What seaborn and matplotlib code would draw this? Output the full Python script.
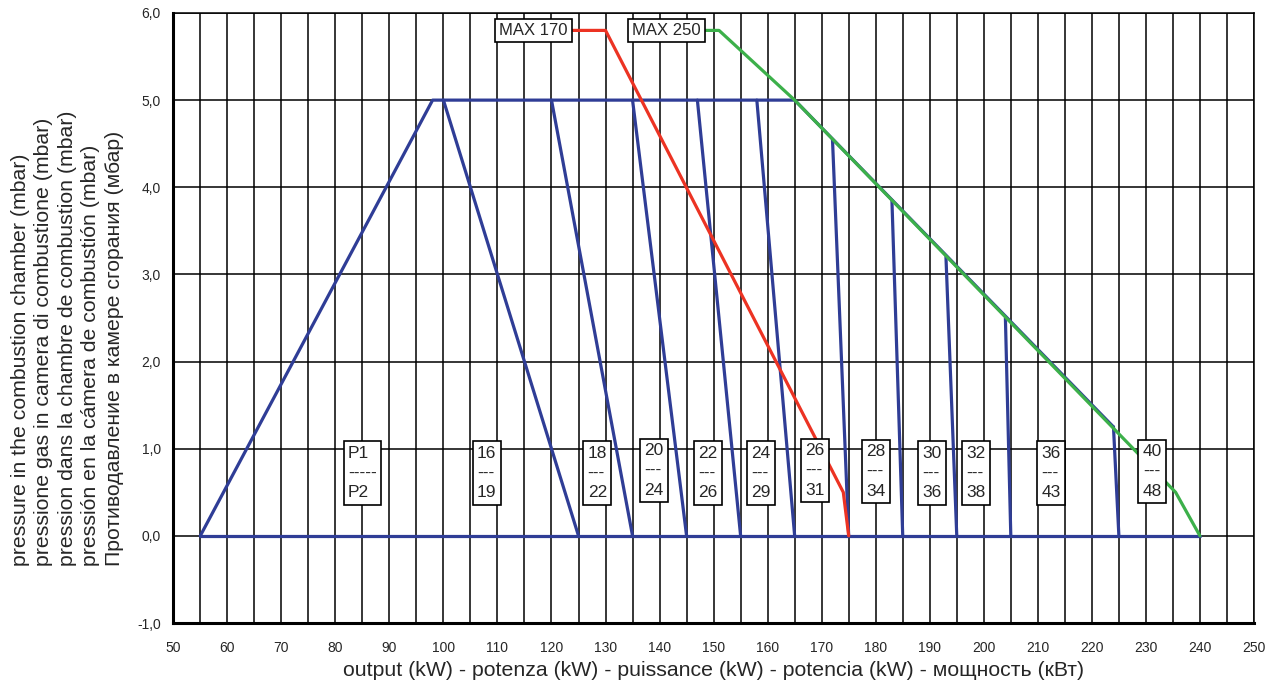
import pandas as pd
import seaborn as sns
import matplotlib.pyplot as plt
from matplotlib.ticker import MultipleLocator, FuncFormatter

# --- data ---
# blue: outline of the working field (P1 / P2 limits)
blue_outline_x = [55, 98, 165, 224]
blue_outline_y = [0, 5, 5, 1.25]
blue_base_x = [55, 240]
blue_base_y = [0, 0]
# steep blue lines: start (top) and end (on the 0 line)
steep_top_x = [100, 120, 135, 147, 158, 172, 183, 193, 204, 224]
steep_top_y = [5, 5, 5, 5, 5, 4.55, 3.85, 3.2, 2.5, 1.25]
steep_end_x = [125, 135, 145, 155, 165, 175, 185, 195, 205, 225]

# red: MAX 170
red_x = [124, 130, 174, 175]
red_y = [5.8, 5.8, 0.5, 0]
# green: MAX 250
green_x = [148, 151, 165, 235.5, 240]
green_y = [5.8, 5.8, 5, 0.5, 0]

# boxed labels along the 1,0 line
box_x = [85, 108, 128.5, 139, 149, 158.7, 168.7, 180, 190.4, 198.6, 212.4, 231.2]
box_text = ["P1\n-----\nP2", "16\n---\n19", "18\n---\n22", "20\n---\n24",
            "22\n---\n26", "24\n---\n29", "26\n---\n31", "28\n---\n34",
            "30\n---\n36", "32\n---\n38", "36\n---\n43", "40\n---\n48"]
box_y = [0.72, 0.72, 0.72, 0.75, 0.72, 0.72, 0.75, 0.74, 0.72, 0.72, 0.72, 0.74]

max_x = [116.7, 141.3]
max_y = [5.8, 5.8]
max_text = ["MAX 170", "MAX 250"]

x_title = "output (kW) - potenza (kW) - puissance (kW) - potencia (kW) - мощность (кВт)"
y_title = ("pressure in the combustion chamber (mbar)\n"
           "pressione gas in camera di combustione (mbar)\n"
           "pression dans la chambre de combustion (mbar)\n"
           "pressión en la cámera de combustión (mbar)\n"
           "Противодавление в камере сгорания (мбар)")

BLUE = "#2f3d96"
RED = "#ec3323"
GREEN = "#3cb04a"

sns.set_style("white")
plt.rcParams['font.family'] = ['Liberation Sans', 'DejaVu Sans']

fig = plt.figure(figsize=(12.71, 6.90), dpi=100)
ax = fig.add_axes([0.1363, 0.0971, 0.8503, 0.8841])

# build blue segments table
rows = []
for x, y in zip(blue_outline_x, blue_outline_y):
    rows.append(("outline", x, y))
for x, y in zip(blue_base_x, blue_base_y):
    rows.append(("base", x, y))
for i, (xt, yt, xe) in enumerate(zip(steep_top_x, steep_top_y, steep_end_x)):
    rows.append((f"s{i}", xt, yt))
    rows.append((f"s{i}", xe, 0))
blue_df = pd.DataFrame(rows, columns=["seg", "x", "y"])

sns.lineplot(data=blue_df, x="x", y="y", units="seg", estimator=None, sort=False,
             color=BLUE, linewidth=2.3, ax=ax, zorder=3)
sns.lineplot(x=red_x, y=red_y, sort=False, estimator=None, color=RED,
             linewidth=2.3, ax=ax, zorder=4)
sns.lineplot(x=green_x, y=green_y, sort=False, estimator=None, color=GREEN,
             linewidth=2.3, ax=ax, zorder=4)

bbox = dict(boxstyle="square,pad=0.25", facecolor="white", edgecolor="black", linewidth=1.2)
for x, y, t in zip(box_x, box_y, box_text):
    ax.text(x, y, t, ha="center", va="center", fontsize=12.5, linespacing=1.4,
            multialignment="left", bbox=bbox, zorder=6)
for x, y, t in zip(max_x, max_y, max_text):
    ax.text(x, y, t, ha="center", va="center", fontsize=12, bbox=bbox, zorder=6)

ax.set_xlim(50, 250)
ax.set_ylim(-1, 6)
ax.xaxis.set_major_locator(MultipleLocator(10))
ax.xaxis.set_minor_locator(MultipleLocator(5))
ax.yaxis.set_major_locator(MultipleLocator(1))
ax.yaxis.set_major_formatter(FuncFormatter(lambda v, p: f"{v:.1f}".replace(".", ",")))
ax.grid(which="both", axis="x", color="black", linewidth=1.1)
ax.grid(which="major", axis="y", color="black", linewidth=1.1)
ax.set_axisbelow(True)

for side in ["left", "bottom"]:
    ax.spines[side].set_linewidth(2.2)
    ax.spines[side].set_color("black")
for side in ["top", "right"]:
    ax.spines[side].set_linewidth(1.1)
    ax.spines[side].set_color("black")

ax.tick_params(axis="both", which="both", direction="out", length=3, width=1,
               color="black", labelsize=10)
ax.tick_params(axis="x", which="major", pad=10)
ax.tick_params(axis="y", which="major", pad=6)
ax.tick_params(axis="x", which="minor", length=0)

ax.set_xlabel(x_title, fontsize=15.3, labelpad=4)
ax.set_ylabel(y_title, fontsize=15.3, linespacing=1.3, multialignment="left")
ax.yaxis.set_label_coords(-0.046, 0.466)

plt.savefig("out.png", dpi=100)
